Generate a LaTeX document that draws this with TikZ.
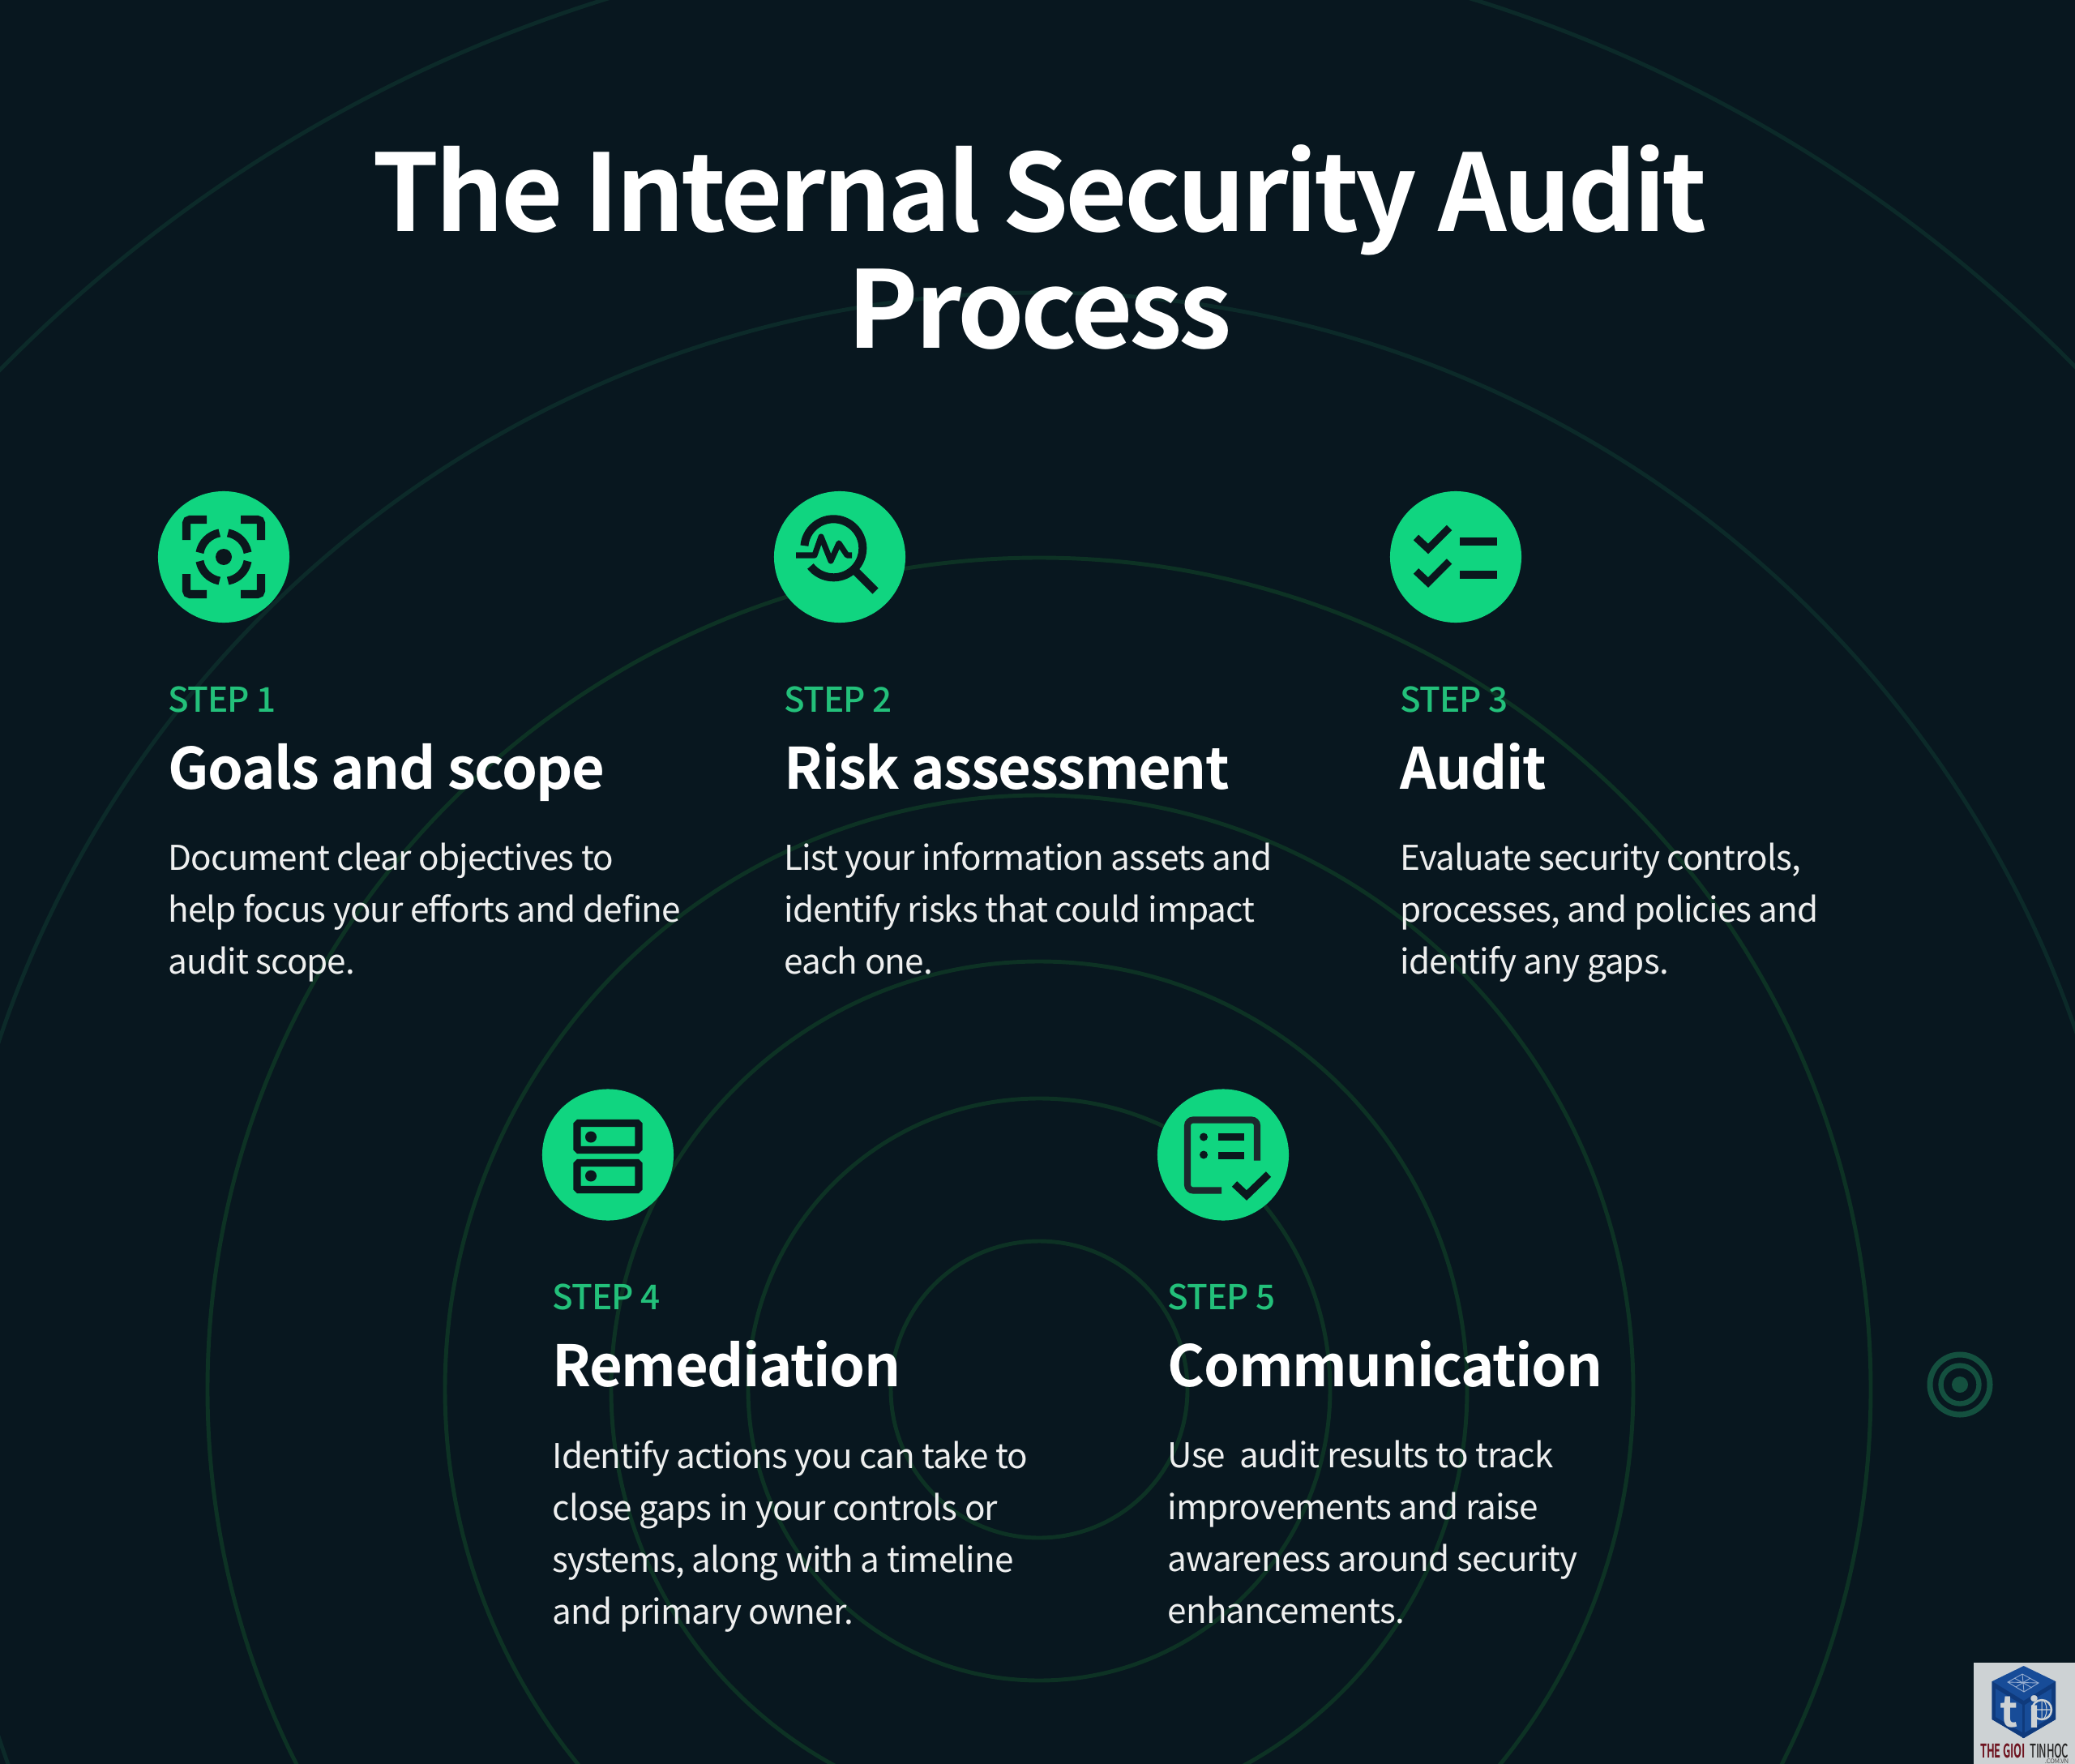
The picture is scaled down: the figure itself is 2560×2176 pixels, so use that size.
\documentclass[tikz,border=0pt]{standalone}
\usepackage{fontspec}
\setmainfont{Noto Sans CJK SC}[LetterSpace=-2.2]
\newfontfamily\tagfont{Noto Sans CJK SC Medium}[LetterSpace=-2.2]
\newfontfamily\headfont{Noto Sans CJK SC Bold}[LetterSpace=-2]
\newfontfamily\titlefont{Noto Sans CJK SC Bold}[LetterSpace=-3.15]
\definecolor{pagebg}{HTML}{08171F}
\definecolor{ringgreen}{HTML}{0D3224}
\definecolor{ringfaint}{HTML}{0C2A29}
\definecolor{dotgreen}{HTML}{10D580}
\definecolor{steplabel}{HTML}{23C07A}
\definecolor{icondark}{HTML}{0B171D}
\definecolor{targetgreen}{HTML}{14503F}
\definecolor{logogrey}{HTML}{CDD2D4}
\definecolor{logoblue}{HTML}{174C98}
\definecolor{logodeep}{HTML}{0F3A7C}
\definecolor{logored}{HTML}{6E1420}
\tikzset{
  stepdot/.style={circle, fill=dotgreen, minimum size=1.62cm, inner sep=0pt},
  steptag/.style={anchor=base west, inner sep=0pt, text=steplabel, font=\tagfont\fontsize{12}{14}\selectfont},
  stephead/.style={anchor=base west, inner sep=0pt, text=white, font=\headfont\fontsize{20}{24}\selectfont},
  stepbody/.style={anchor=north west, inner sep=0pt, align=left, text=white!93!pagebg, font=\fontsize{12}{18.2}\selectfont},
  iconline/.style={draw=icondark, line width=2.6pt},
  logotext/.style={anchor=base west, inner sep=0pt, xscale=.56},
}
\begin{document}
\begin{tikzpicture}[x=.01cm, y=.01cm]
\useasboundingbox (0,0) rectangle (2560,-2176);
\fill[pagebg] (0,0) rectangle (2560,-2176);
% rings
\begin{scope}
\clip (0,0) rectangle (2560,-2176);
\foreach \r in {183,359,528,733,1026}
    \draw[ringgreen, line width=1.4pt] (1282,-1714) circle (\r);
\foreach \r in {1353,1796}
    \draw[ringfaint, line width=1.4pt] (1282,-1714) circle (\r);
\end{scope}
\node[inner sep=0pt, align=center, text=white, font=\titlefont\fontsize{37.5}{40.7}\selectfont] (title) at (1283,-305) {The Internal Security Audit\\Process};
% step 1
\begin{scope}[shift={(276,-687)}]
    \node[stepdot] (dotA) at (0,0) {};
    \foreach \a in {0,90,180,270}{
        \begin{scope}[rotate=\a]
        \draw[iconline, line width=2.85pt, rounded corners=1.2pt] (21,46)--(46,46)--(46,21);
        \draw[iconline, line width=2.85pt] (10:30) arc (10:80:30);
        \end{scope}
    }
    \fill[icondark] (0,0) circle (10);
    \node[steptag] (tagA) at (-69,-191) {STEP 1};
    \node[stephead] (headA) at (-69,-286) {Goals and scope};
    \node[stepbody] (bodyA) at (-69,-352) {Document clear objectives to\\help focus your efforts and define\\audit scope.};
\end{scope}
% step 2
\begin{scope}[shift={(1036,-687)}]
    \node[stepdot] (dotB) at (0,0) {};
    \draw[iconline, line width=2.85pt] (-7.7,10.7)++(175:36) arc (175:-142:36);
    \draw[iconline, line width=2.85pt] (19,-17)--(44,-42);
    \draw[iconline, line width=2pt, line join=round] (-54,2)--(-31,2)--(-23,25)--(-11,-5)--(-1,17)--(9,2)--(15,2);
    \node[steptag] (tagB) at (-69,-191) {STEP 2};
    \node[stephead] (headB) at (-69,-286) {Risk assessment};
    \node[stepbody] (bodyB) at (-69,-352) {List your information assets and\\identify risks that could impact\\each one.};
\end{scope}
% step 3
\begin{scope}[shift={(1796,-687)}]
    \node[stepdot] (dotC) at (0,0) {};
    \foreach \y in {0,-41.5}{
        \draw[iconline] (-49,24+\y)--(-34,10+\y)--(-8,36+\y);
    }
    \draw[iconline, line width=2.85pt] (5,19)--(51,19);
    \draw[iconline, line width=2.85pt] (5,-22)--(51,-22);
    \node[steptag] (tagC) at (-69,-191) {STEP 3};
    \node[stephead] (headC) at (-69,-286) {Audit};
    \node[stepbody] (bodyC) at (-69,-352) {Evaluate security controls,\\processes, and policies and\\identify any gaps.};
\end{scope}
% step 4
\begin{scope}[shift={(750,-1424.5)}]
    \node[stepdot] (dotD) at (0,0) {};
    \draw[iconline, rounded corners=.5pt] (-38,39) rectangle (38,6);
    \draw[iconline, rounded corners=.5pt] (-38,-10) rectangle (38,-43);
    \fill[icondark] (-21,22) circle (7);
    \fill[icondark] (-21,-26) circle (7);
    \node[steptag] (tagD) at (-69,-191) {STEP 4};
    \node[stephead] (headD) at (-69,-286) {Remediation};
    \node[stepbody] (bodyD) at (-69,-352) {Identify actions you can take to\\close gaps in your controls or\\systems, along with a timeline\\and primary owner.};
\end{scope}
% step 5
\begin{scope}[shift={(1509,-1424.5)}]
    \node[stepdot] (dotE) at (0,0) {};
    \draw[iconline, draw=icondark!85!gray, line width=2.3pt, rounded corners=2pt] (42,-7)--(42,43)--(-44,43)--(-44,-44)--(-2,-44);
    \fill[icondark] (-24,22) circle (5);
    \fill[icondark] (-24,0) circle (5);
    \draw[iconline, line width=2.3pt] (-6,22)--(26,22);
    \draw[iconline, line width=2.3pt] (-6,-1)--(26,-1);
    \draw[iconline] (14,-36)--(29,-50)--(56,-24);
    \node[steptag] (tagE) at (-69,-191) {STEP 5};
    \node[stephead] (headE) at (-69,-286) {Communication};
    \node[stepbody] (bodyE) at (-69,-352) {Use~~audit results to track\\improvements and raise\\awareness around security\\enhancements.};
\end{scope}
% target mark
\begin{scope}[shift={(2418,-1708)}]
    \draw[targetgreen, line width=2pt] (0,0) circle (37);
    \draw[targetgreen, line width=1.8pt] (0,0) circle (23.5);
    \fill[targetgreen] (0,0) circle (10);
\end{scope}
% logo
\begin{scope}[shift={(2435,-2051)}]
    \fill[logogrey] (0,0) rectangle (125,-125);
    \fill[logoblue] (61.7,-4)--(101,-23)--(101,-70)--(61.7,-93)--(22.7,-70)--(22.7,-23)--cycle;
    \fill[logodeep] (61.7,-47)--(101,-23)--(101,-70)--(61.7,-93)--(22.7,-70)--(22.7,-23)--cycle;
    \fill[logoblue] (61.7,-53)--(96,-32)--(96,-67)--(61.7,-87)--(27,-67)--(27,-32)--cycle;
    \draw[logodeep, line width=.9pt] (61.7,-47)--(61.7,-93);
    \draw[white!55!logoblue, line width=.25pt] (42,-24)--(60,-14)--(80,-25)--(62,-36)--cycle (42,-24)--(80,-25) (60,-14)--(62,-36) (50,-19)--(72,-31) (70,-19)--(52,-30);
    \node[inner sep=0pt, text=logogrey, font=\headfont\fontsize{15}{15}\selectfont] (logot) at (44,-61) {t};
    \draw[logogrey, line width=.7pt] (84,-58) circle (12);
    \draw[logogrey, line width=.3pt] (84,-46)--(84,-70) (72,-58)--(96,-58) (84,-46) arc (90:-90:6 and 12);
    \node[inner sep=0pt, text=logogrey, font=\headfont\fontsize{14}{14}\selectfont] (logoi) at (75,-61) {i};
    \node[logotext, text=logored, font=\headfont\fontsize{6.6}{7}\selectfont] (logoa) at (8,-117) {THE GIOI};
    \node[logotext, text=black!85, font=\tagfont\fontsize{6.6}{7}\selectfont] (logob) at (69,-117) {TINHOC};
    \node[inner sep=0pt, anchor=base east, text=black!70, font=\fontsize{2.2}{3}\selectfont] (logoc) at (118,-124) {.COM.VN};
\end{scope}
\end{tikzpicture}
\end{document}
